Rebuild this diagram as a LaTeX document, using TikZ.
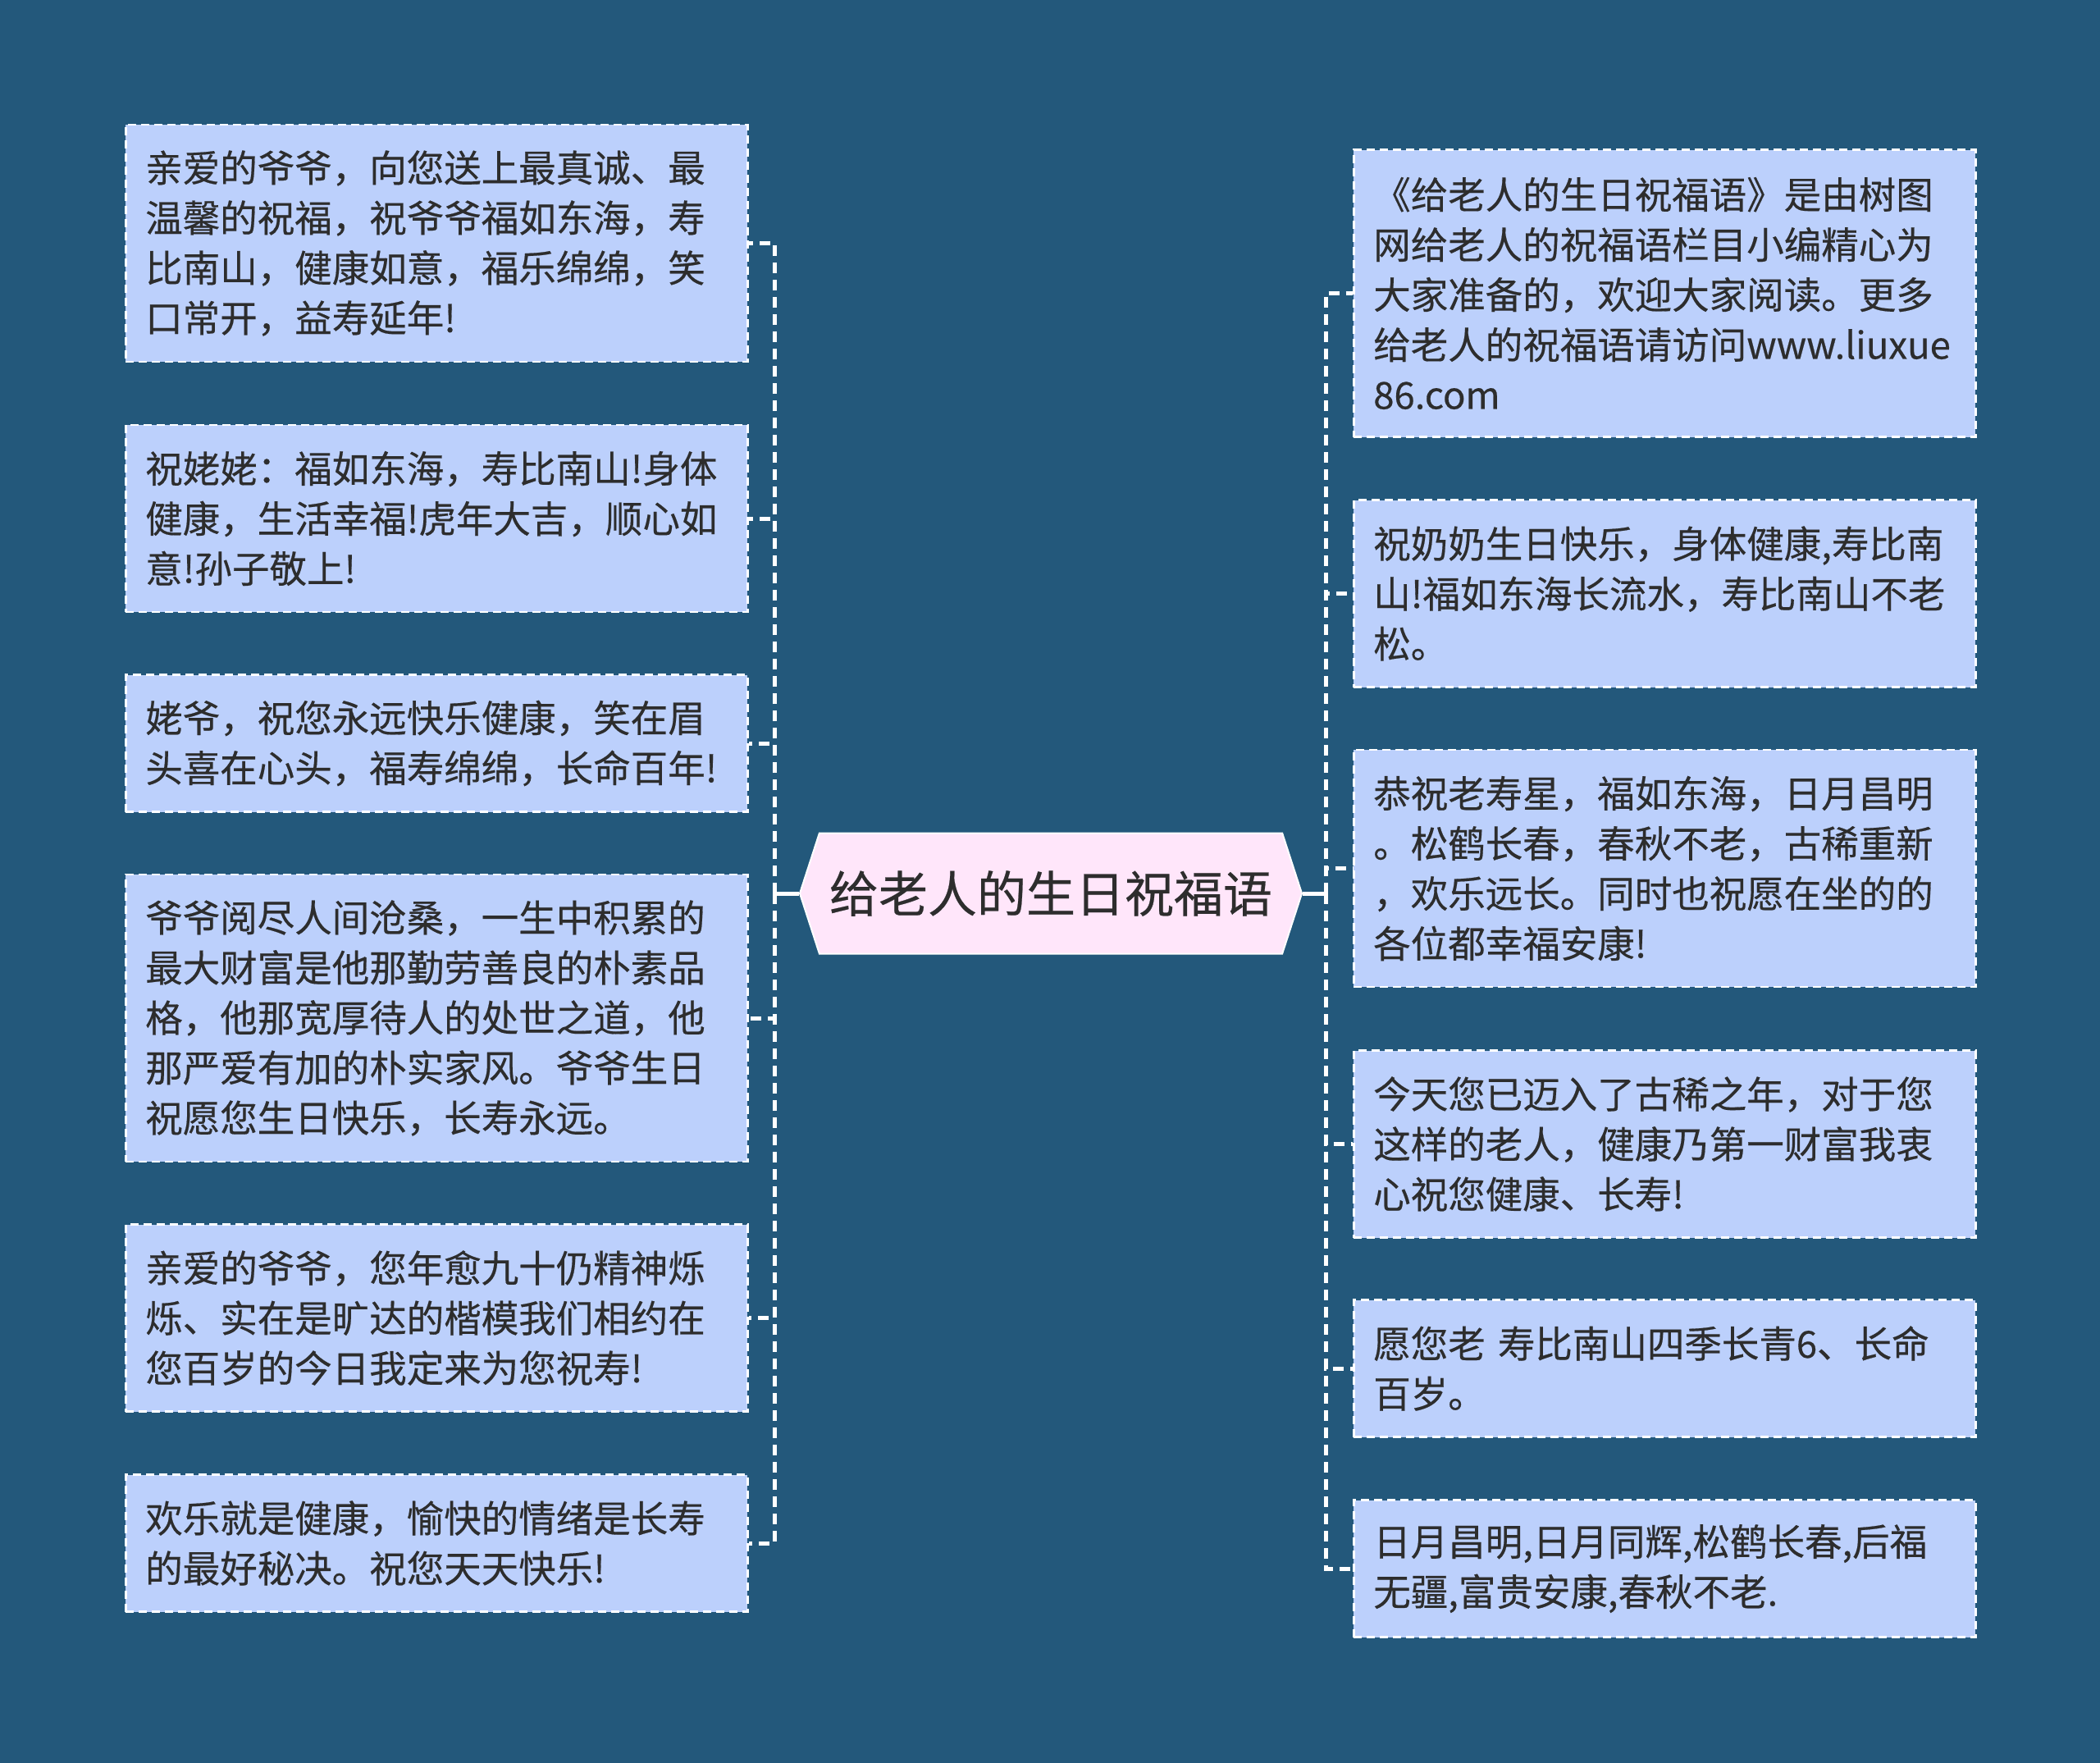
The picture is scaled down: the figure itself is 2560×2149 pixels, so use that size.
\documentclass[tikz,border=0pt]{standalone}
\usepackage{fontspec}
\setmainfont{Noto Sans CJK SC}[FakeBold=0.4]
\usepackage{tikz}
\usetikzlibrary{positioning,shapes.symbols}
\definecolor{giftbg}{RGB}{35,88,123}
\definecolor{giftleaf}{RGB}{188,208,252}
\definecolor{giftroot}{RGB}{255,230,250}
\definecolor{gifttext}{RGB}{45,45,45}

\begin{document}
\begin{tikzpicture}[x=1pt,y=-1pt,
    root/.style={shape=signal,signal to=west and east,signal pointer angle=144,draw=white,line width=2pt,fill=giftroot,text=gifttext,font=\fontsize{60}{72}\selectfont,minimum width=612pt,minimum height=147pt,inner sep=0pt},
    leaf/.style={draw=white,line width=2.5pt,dash pattern=on 10pt off 6pt,fill=giftleaf,text=gifttext,font=\fontsize{45.5}{61}\selectfont,align=left,text width=710pt,inner xsep=24pt,inner ysep=10pt,anchor=west},
    nl/.style={minimum height={61pt*#1+45pt}},
    trunk/.style={draw=white,line width=5pt},
    link/.style={draw=white,line width=5pt,dash pattern=on 13pt off 8pt}
  ]
  \fill[giftbg] (0,0) rectangle (2560,2149);

  \node[root] (gift) at (1281,1089) {给老人的生日祝福语};
  \coordinate (lj) at (944,1089);
  \coordinate (rj) at (1616,1089);

  % left side
  \node[leaf,nl=4] (l1) at (152,296.5) {亲爱的爷爷，向您送上最真诚、最\\温馨的祝福，祝爷爷福如东海，寿\\比南山，健康如意，福乐绵绵，笑\\口常开，益寿延年!};
  \node[leaf,nl=3] (l2) at (152,632) {祝姥姥：福如东海，寿比南山!身体\\健康，生活幸福!虎年大吉，顺心如\\意!孙子敬上!};
  \node[leaf,nl=2] (l3) at (152,906) {姥爷，祝您永远快乐健康，笑在眉\\头喜在心头，福寿绵绵，长命百年!};
  \node[leaf,nl=5] (l4) at (152,1241) {爷爷阅尽人间沧桑，一生中积累的\\最大财富是他那勤劳善良的朴素品\\格，他那宽厚待人的处世之道，他\\那严爱有加的朴实家风。爷爷生日\\祝愿您生日快乐，长寿永远。};
  \node[leaf,nl=3] (l5) at (152,1606.5) {亲爱的爷爷，您年愈九十仍精神烁\\烁、实在是旷达的楷模我们相约在\\您百岁的今日我定来为您祝寿!};
  \node[leaf,nl=2] (l6) at (152,1881) {欢乐就是健康，愉快的情绪是长寿\\的最好秘决。祝您天天快乐!};

  % right side
  \node[leaf,nl=5] (r1) at (1649,357.5) {《给老人的生日祝福语》是由树图\\网给老人的祝福语栏目小编精心为\\大家准备的，欢迎大家阅读。更多\\给老人的祝福语请访问www.liuxue\\86.com};
  \node[leaf,nl=3] (r2) at (1649,723.5) {祝奶奶生日快乐，身体健康,寿比南\\山!福如东海长流水，寿比南山不老\\松。};
  \node[leaf,nl=4] (r3) at (1649,1058.5) {恭祝老寿星，福如东海，日月昌明\\。松鹤长春，春秋不老，古稀重新\\，欢乐远长。同时也祝愿在坐的的\\各位都幸福安康!};
  \node[leaf,nl=3] (r4) at (1649,1394.5) {今天您已迈入了古稀之年，对于您\\这样的老人，健康乃第一财富我衷\\心祝您健康、长寿!};
  \node[leaf,nl=2] (r5) at (1649,1668) {愿您老 寿比南山四季长青6、长命\\百岁。};
  \node[leaf,nl=2] (r6) at (1649,1912) {日月昌明,日月同辉,松鹤长春,后福\\无疆,富贵安康,春秋不老.};

  \draw[trunk] (gift.west) -- (lj);
  \draw[trunk] (gift.east) -- (rj);
  \foreach \n in {l1,l2,l3,l4,l5,l6}
    \draw[link] (lj) |- (\n.east);
  \foreach \n in {r1,r2,r3,r4,r5,r6}
    \draw[link] (rj) |- (\n.west);
\end{tikzpicture}
\end{document}
